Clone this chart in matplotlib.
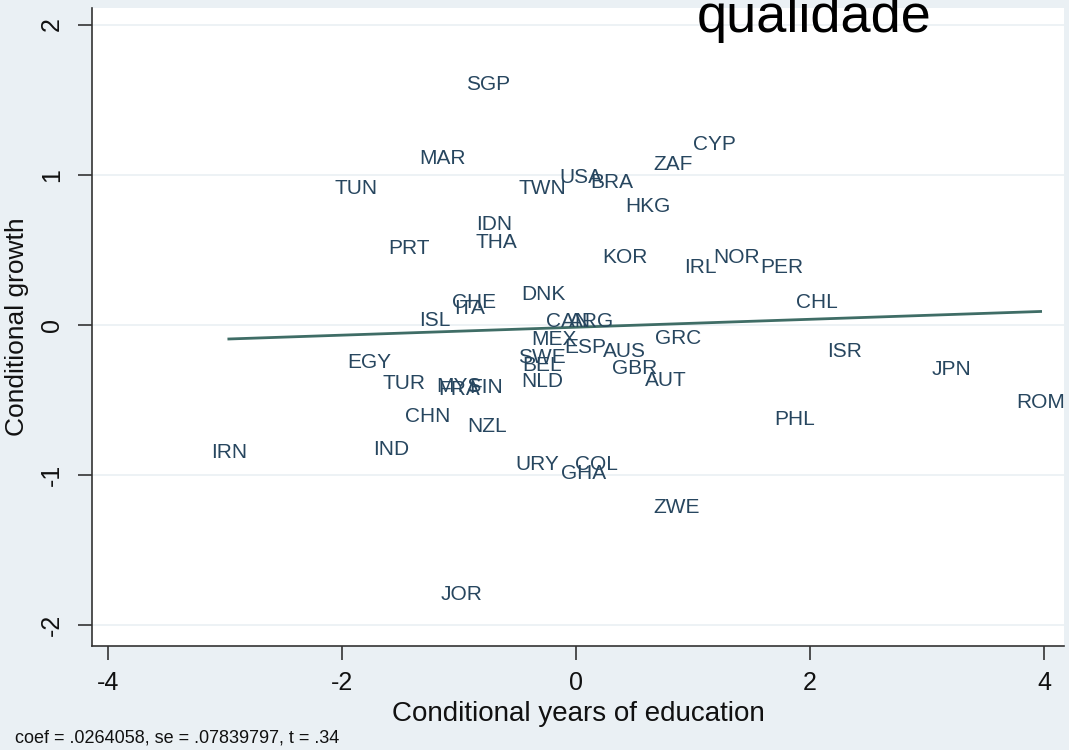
import numpy as np
import matplotlib.pyplot as plt

# country codes with conditional years of education (x) and conditional growth (y)
countries = ['SGP', 'MAR', 'TUN', 'TWN', 'USA', 'BRA', 'ZAF', 'CYP', 'HKG', 'IDN',
             'THA', 'PRT', 'KOR', 'IRL', 'NOR', 'PER', 'CHL', 'DNK', 'CHE', 'ITA',
             'ISL', 'CAN', 'ARG', 'MEX', 'ESP', 'AUS', 'GRC', 'SWE', 'BEL', 'GBR',
             'AUT', 'NLD', 'EGY', 'TUR', 'MYS', 'FRA', 'FIN', 'CHN', 'NZL', 'IND',
             'IRN', 'URY', 'COL', 'GHA', 'ZWE', 'JOR', 'ISR', 'JPN', 'ROM', 'PHL']
educ = [-0.75, -1.14, -1.88, -0.29, 0.04, 0.30, 0.83, 1.18, 0.61, -0.70,
        -0.68, -1.43, 0.42, 1.06, 1.37, 1.76, 2.06, -0.28, -0.87, -0.91,
        -1.21, -0.07, 0.13, -0.19, 0.08, 0.41, 0.87, -0.29, -0.29, 0.50,
        0.77, -0.29, -1.77, -1.47, -1.00, -1.00, -0.77, -1.27, -0.76, -1.58,
        -2.97, -0.33, 0.17, 0.06, 0.86, -0.98, 2.29, 3.21, 3.97, 1.87]
growth = [1.60, 1.11, 0.91, 0.91, 0.98, 0.95, 1.07, 1.20, 0.79, 0.67,
          0.55, 0.51, 0.45, 0.38, 0.45, 0.38, 0.15, 0.20, 0.15, 0.11,
          0.03, 0.02, 0.02, -0.10, -0.15, -0.18, -0.09, -0.22, -0.27, -0.29,
          -0.37, -0.38, -0.25, -0.39, -0.41, -0.43, -0.42, -0.61, -0.68, -0.83,
          -0.85, -0.93, -0.93, -0.99, -1.22, -1.80, -0.18, -0.30, -0.52, -0.63]

xticks = [-4, -2, 0, 2, 4]
yticks = [-2, -1, 0, 1, 2]

coef = 0.0264058
se = 0.07839797
t_stat = 0.34

plt.rcParams['font.family'] = ['Liberation Sans', 'DejaVu Sans']

bg = '#eaf0f4'
label_col = '#27465f'
line_col = '#3f6d66'

fig = plt.figure(figsize=(10.69, 7.5), dpi=100, facecolor=bg)
ax = fig.add_axes([92 / 1069, 104 / 750, 972 / 1069, 638 / 750])
ax.set_facecolor('white')
ax.set_xlim(-4.14, 4.17)
ax.set_ylim(-2.14, 2.11)

# horizontal grid like stata
for yv in yticks:
    ax.axhline(yv, color=bg, lw=1.2, zorder=0)

# fitted line through the means
x = np.array(educ)
y = np.array(growth)
intercept = y.mean() - coef * x.mean()
xs = np.array([x.min(), x.max()])
ax.plot(xs, intercept + coef * xs, color=line_col, lw=2, zorder=2)

# country labels centred on the points
for c, xv, yv in zip(countries, educ, growth):
    ax.text(xv, yv, c, ha='center', va='center', fontsize=15, color=label_col, zorder=3)

for s in ['top', 'right']:
    ax.spines[s].set_visible(False)
for s in ['left', 'bottom']:
    ax.spines[s].set_color('#333333')
    ax.spines[s].set_linewidth(1.2)

ax.set_xticks(xticks)
ax.set_xticklabels([str(v) for v in xticks])
ax.set_yticks(yticks)
ax.set_yticklabels([str(v) for v in yticks], rotation=90, va='center')
ax.tick_params(axis='both', direction='out', length=10, width=1.2,
               color='#333333', labelsize=18, labelcolor='#111111')
ax.tick_params(axis='x', pad=8)
ax.tick_params(axis='y', pad=10)

ax.set_xlabel('Conditional years of education', fontsize=20, color='#111111', labelpad=4)
ax.set_ylabel('Conditional growth', fontsize=19, color='#111111', labelpad=8)

fig.text(15 / 1069, 1 - 738 / 750,
         'coef = %s, se = %s, t = %s' % ('.0264058', '.07839797', '.34'),
         fontsize=13, color='#111111', va='center', ha='left')

fig.text(697 / 1069, 1 - 32 / 750, 'qualidade', fontsize=39, color='black',
         ha='left', va='baseline')

fig.savefig('out.png', dpi=100, facecolor=bg)
